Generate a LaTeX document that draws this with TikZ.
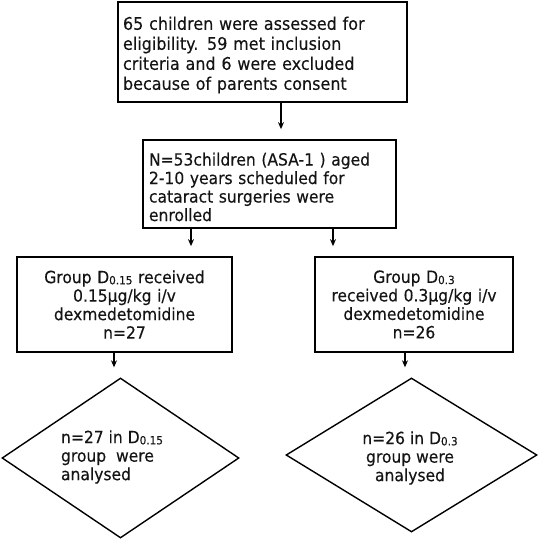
\documentclass[tikz,border=0pt]{standalone}
\usepackage{fontspec}
\setmainfont{DejaVu Sans}[FakeStretch=0.925,FakeBold=0.25]
\usetikzlibrary{shapes.geometric,arrows.meta}
\newcommand\sbs[1]{\raisebox{-1.2pt}{\fontsize{11.3pt}{10pt}\selectfont #1}}
\tikzset{
  box/.style={draw=black, line width=1.7pt, inner xsep=5pt, inner ysep=0pt},
  big/.style={font=\fontsize{17.3pt}{20pt}\selectfont},
  small/.style={font=\fontsize{16.8pt}{18.5pt}\selectfont},
  dia/.style={draw=black, line width=1.4pt, diamond, inner sep=0pt},
  arr/.style={-{Stealth[length=7pt,width=6pt]}, line width=1.2pt, shorten >=10pt},
  txt/.style={text=black!92}
}
\begin{document}
\begin{tikzpicture}[x=1pt,y=-1pt]
\useasboundingbox (0,0) rectangle (539,542);
\node[box,minimum width=289pt,minimum height=100pt,
  label={[big,txt,text width=279pt,align=left,yshift=-3pt]center:{65 children were assessed for\\eligibility. 59 met inclusion\\criteria and 6 were excluded\\because of parents consent}}] (b1) at (262.5,52) {};
\node[box,minimum width=253pt,minimum height=88pt,
  label={[small,txt,text width=241pt,align=left,yshift=-3pt]center:{N=53children (ASA-1 ) aged\\2-10 years scheduled for\\cataract surgeries were\\enrolled}}] (b2) at (269.5,184) {};
\node[box,small,txt,minimum width=215pt,minimum height=95pt,text width=205pt,align=center] (b3) at (124.5,304.5)
  {Group D\sbs{0.15} received\\0.15µg/kg i/v\\dexmedetomidine\\n=27};
\node[box,small,txt,minimum width=198pt,minimum height=95pt,text width=188pt,align=center] (b4) at (414,304.5)
  {Group D\sbs{0.3}\\received 0.3µg/kg i/v\\dexmedetomidine\\n=26};
\node[dia,minimum width=237pt,minimum height=160pt] (d1) at (120.5,458) {};
\node[small,txt,align=left] (t1) at (112,457) {n=27 in D\sbs{0.15}\\group~ were\\analysed};
\node[dia,minimum width=251pt,minimum height=154pt] (d2) at (411.5,455) {};
\node[small,txt,align=center] (t2) at (410,458) {n=26 in D\sbs{0.3}\\group were\\analysed};
\coordinate (x1) at (281,0);
\coordinate (x2) at (191,0);
\coordinate (x3) at (333,0);
\coordinate (x4) at (114,0);
\coordinate (x5) at (405,0);
\draw[arr] (b1.south -| x1) -- (b2.north -| x1);
\draw[arr] (b2.south -| x2) -- (b3.north -| x2);
\draw[arr] (b2.south -| x3) -- (b4.north -| x3);
\draw[arr] (b3.south -| x4) -- (d1.north -| x4);
\draw[arr] (b4.south -| x5) -- (d2.north -| x5);
\end{tikzpicture}
\end{document}
